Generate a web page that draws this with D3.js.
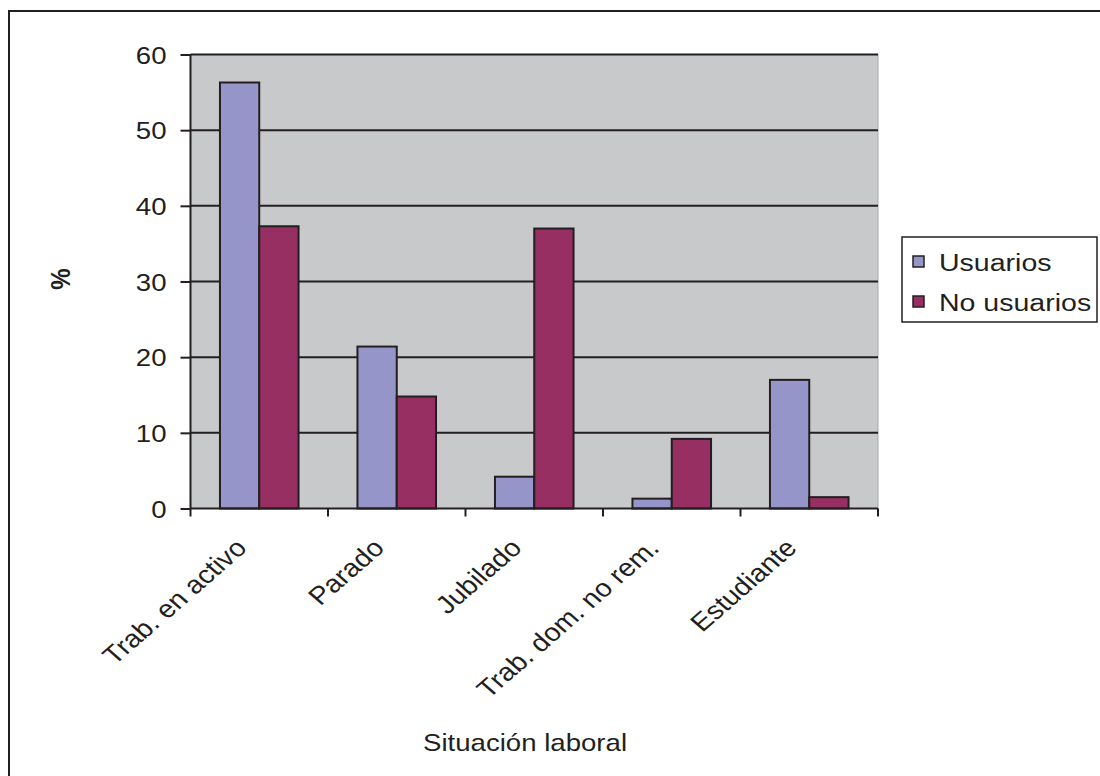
<!DOCTYPE html>
<html>
<head>
<meta charset="utf-8">
<script src="https://cdn.jsdelivr.net/npm/d3@7"></script>
<style>
  html, body { margin: 0; padding: 0; background: #fff; }
  svg { display: block; font-family: "Liberation Sans", Arial, sans-serif; }
</style>
</head>
<body>
<svg id="chart" width="1100" height="776"></svg>
<script>
// Situación laboral de usuarios y no usuarios (%)
const categories = ["Trab. en activo", "Parado", "Jubilado", "Trab. dom. no rem.", "Estudiante"];
const seriesNames = ["Usuarios", "No usuarios"];
const usuarios = [56.3, 21.4, 4.2, 1.3, 17.0];
const noUsuarios = [37.3, 14.8, 37.0, 9.2, 1.5];
const yTicks = [0, 10, 20, 30, 40, 50, 60];
const colors = ["#9595c9", "#982f63"];

const svg = d3.select("#chart");
const W = 1100, H = 776;
const plot = { left: 190.5, top: 54.5, right: 878, bottom: 508.5 };
const FONT = 24;     // text size
const SX = 1.15;     // wide text: horizontal stretch in screen space
const INK = "#231f20";

// outer frame
svg.append("rect")
  .attr("x", 9).attr("y", 11)
  .attr("width", W + 20).attr("height", H + 20)
  .attr("fill", "#fff").attr("stroke", INK).attr("stroke-width", 2);

const x0 = d3.scaleBand().domain(categories).range([plot.left, plot.right]).paddingInner(0).paddingOuter(0);
// two bars per category with a 150% gap: 2 bars + 1.5 bar widths per band
const x1 = d3.scaleBand().domain(seriesNames).range([0, x0.bandwidth()]).paddingInner(0).paddingOuter(0.75);
const y = d3.scaleLinear().domain([0, 60]).range([plot.bottom, plot.top]);

// plot background
svg.append("rect")
  .attr("x", plot.left).attr("y", plot.top)
  .attr("width", plot.right - plot.left).attr("height", plot.bottom - plot.top)
  .attr("fill", "#c8c9cb").attr("stroke", "#a9a9ab").attr("stroke-width", 1);

// gridlines
svg.append("g").selectAll("line")
  .data(yTicks.filter(d => d > 0))
  .join("line")
  .attr("x1", plot.left).attr("x2", plot.right)
  .attr("y1", d => y(d)).attr("y2", d => y(d))
  .attr("stroke", INK).attr("stroke-width", 2);

// bars
const data = categories.map((c, i) => ({ cat: c, values: [usuarios[i], noUsuarios[i]] }));
const groups = svg.append("g").selectAll("g")
  .data(data).join("g")
  .attr("transform", d => `translate(${x0(d.cat)},0)`);
groups.selectAll("rect")
  .data(d => d.values.map((v, j) => ({ name: seriesNames[j], v, j })))
  .join("rect")
  .attr("x", d => x1(d.name))
  .attr("width", x1.bandwidth())
  .attr("y", d => y(d.v))
  .attr("height", d => y(0) - y(d.v))
  .attr("fill", d => colors[d.j])
  .attr("stroke", INK).attr("stroke-width", 2);

// y axis
const yAxis = d3.axisLeft(y).tickValues(yTicks).tickSize(10).tickPadding(0).tickFormat(d3.format("d"));
const gy = svg.append("g").attr("transform", `translate(${plot.left},0)`).call(yAxis);
gy.select(".domain").attr("stroke", INK).attr("stroke-width", 2).attr("d", `M0,${plot.top}V${plot.bottom}`);
gy.selectAll(".tick line").attr("stroke", INK).attr("stroke-width", 2);
gy.selectAll(".tick text")
  .attr("x", null).attr("dy", null)
  .attr("transform", `translate(-24,8.5) scale(${SX},1)`)
  .attr("text-anchor", "end")
  .attr("font-size", FONT).attr("fill", INK)
  .attr("font-family", "Liberation Sans, Arial, sans-serif");

// x axis: ticks at category boundaries
const boundaries = categories.map(c => x0(c)).concat([plot.right]);
svg.append("line")
  .attr("x1", plot.left).attr("x2", plot.right)
  .attr("y1", plot.bottom).attr("y2", plot.bottom)
  .attr("stroke", INK).attr("stroke-width", 2);
svg.append("g").selectAll("line")
  .data(boundaries).join("line")
  .attr("x1", d => d).attr("x2", d => d)
  .attr("y1", plot.bottom).attr("y2", plot.bottom + 8)
  .attr("stroke", INK).attr("stroke-width", 2);

// rotated category labels
svg.append("g").selectAll("text")
  .data(categories).join("text")
  .attr("transform", c => `translate(${x0(c) + x0.bandwidth() / 2 - 11},${plot.bottom + 41}) scale(${SX},1) rotate(-45)`)
  .attr("text-anchor", "end")
  .attr("font-size", 25)
  .attr("fill", INK)
  .text(c => c);

// axis titles
svg.append("text")
  .attr("transform", `translate(525,751) scale(${SX},1)`)
  .attr("text-anchor", "middle").attr("font-size", FONT).attr("fill", INK)
  .text("Situación laboral");
svg.append("text")
  .attr("transform", `translate(70,279) scale(${SX},1) rotate(-90)`)
  .attr("text-anchor", "middle").attr("font-size", FONT).attr("font-weight", "bold").attr("fill", INK)
  .text("%");

// legend
const lg = svg.append("g");
lg.append("rect")
  .attr("x", 902).attr("y", 237).attr("width", 195).attr("height", 85)
  .attr("fill", "#fff").attr("stroke", INK).attr("stroke-width", 1.5);
const items = lg.selectAll("g.item").data(seriesNames).join("g")
  .attr("transform", (d, i) => `translate(913,${262 + i * 40})`);
items.append("rect")
  .attr("x", 0).attr("y", -6).attr("width", 11).attr("height", 11)
  .attr("fill", (d, i) => colors[i]).attr("stroke", INK).attr("stroke-width", 1.5);
items.append("text")
  .attr("transform", `translate(26,8.5) scale(${SX},1)`)
  .attr("font-size", 24.8).attr("fill", INK)
  .text(d => d);
</script>
</body>
</html>
